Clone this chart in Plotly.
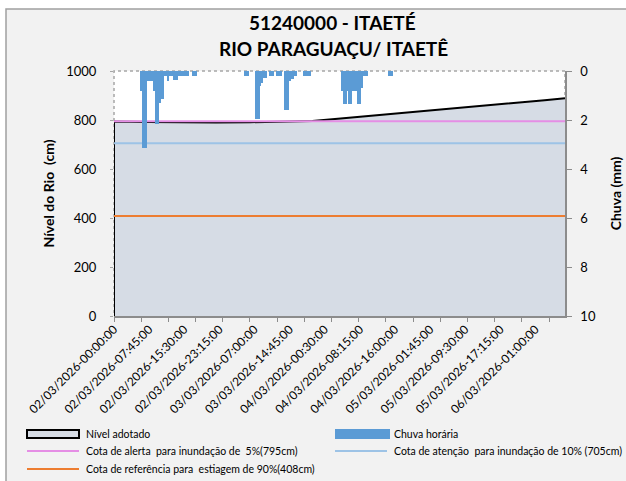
import plotly.graph_objects as go

# ---------------- data ----------------
tick_labels = [
    "02/03/2026-00:00:00", "02/03/2026-07:45:00", "02/03/2026-15:30:00",
    "02/03/2026-23:15:00", "03/03/2026-07:00:00", "03/03/2026-14:45:00",
    "04/03/2026-00:30:00", "04/03/2026-08:15:00", "04/03/2026-16:00:00",
    "05/03/2026-01:45:00", "05/03/2026-09:30:00", "05/03/2026-17:15:00",
    "06/03/2026-01:00:00",
]
label_step = 31      # categories between labels (15-min readings)
tick_step = 24       # categories between tick marks
n_points = 399       # number of 15-min readings

level_idx = [0, 30, 60, 90, 120, 150, 175, 200, 230, 260, 290, 320, 350, 380, 398]
level_cm = [794, 792, 790, 790, 791, 793, 796, 806, 818, 831, 844, 857, 869, 881, 889]

rain_idx = [24, 25, 26, 27, 28, 29, 30, 31, 32, 33, 34, 35, 36, 37, 38, 39, 40, 41,
            42, 43, 44, 45, 46, 47, 48, 49, 50, 51, 52, 53, 54, 55, 56,
            57, 58, 59, 60, 61, 62, 63, 64, 65, 70, 71, 72,
            116, 117, 118, 125, 126, 127, 128, 129, 130, 131, 132, 133, 134,
            138, 139, 140, 144, 145, 146, 147, 151, 152, 153, 154, 155,
            156, 157, 158, 159, 160, 161, 168, 169, 170, 171, 172, 173,
            201, 202, 203, 204, 205, 206, 207, 208, 209, 210, 211, 212, 213, 214,
            215, 216, 217, 218, 219, 220, 221, 222, 223, 243, 244, 245]
rain_mm = [0.8, 0.8, 3.15, 3.15, 3.15, 0.2, 0.4, 0.4, 0.4, 0.4, 0.4, 0.8, 0.8, 2.15, 2.15, 2.15, 1.3, 1.3,
           1.15, 1.15, 0.2, 0.2, 0.2, 0.2, 0.4, 0.2, 0.2, 0.2, 0.2, 0.35, 0.35, 0.35, 0.35,
           0.2, 0.2, 0.2, 0.2, 0.2, 0.2, 0.2, 0.2, 0.2, 0.2, 0.2, 0.2,
           0.2, 0.2, 0.2, 1.95, 1.95, 1.95, 1.95, 0.6, 0.48, 0.48, 0.3, 0.3, 0.3,
           0.2, 0.2, 0.2, 0.2, 0.2, 0.2, 0.2, 1.6, 1.6, 1.6, 1.6, 0.4,
           0.34, 0.34, 0.34, 0.2, 0.2, 0.2, 0.2, 0.2, 0.2, 0.2, 0.2, 0.2,
           0.8, 0.8, 1.36, 1.36, 1.36, 0.8, 1.36, 1.36, 1.36, 0.8, 0.8, 0.8, 0.8, 0.8,
           1.36, 1.36, 1.36, 0.7, 0.7, 0.2, 0.2, 0.2, 0.2, 0.2, 0.2, 0.2]

level_name = "Nível adotado"
rain_name = "Chuva horária"
ref_names = ["Cota de alerta  para inundação de  5%(795cm)",
             "Cota de atenção  para inundação de 10% (705cm)",
             "Cota de referência para  estiagem de 90%(408cm)"]
ref_values = [795, 705, 408]

# ---------------- styles / geometry ----------------
ref_colors = ["#e58ee5", "#9dc3e6", "#ed7d31"]
LEVEL_FILL = "#d6dce5"
RAIN_COLOR = "#5b9bd5"

W, H = 626, 481
L, R, T, B = 114, 61, 71, 165
pw, ph = W - L - R, H - T - B


def px_x(px):
    return (px - L) / pw


def px_y(py):
    return (H - B - py) / ph


FONT = "Lato"
last = n_points - 1

fig = go.Figure()

fig.add_trace(go.Scatter(
    x=[level_idx[0]] + level_idx, y=[0] + level_cm, mode="lines",
    fill="tozeroy", fillcolor=LEVEL_FILL,
    line=dict(color="black", width=2), name=level_name, showlegend=False))

for nm, v, c in zip(ref_names, ref_values, ref_colors):
    fig.add_trace(go.Scatter(
        x=[0, last], y=[v, v], mode="lines",
        line=dict(color=c, width=2), name=nm, showlegend=False))

fig.add_trace(go.Bar(
    x=rain_idx, y=rain_mm, yaxis="y2", width=1,
    marker=dict(color=RAIN_COLOR, line=dict(width=0)),
    name=rain_name, showlegend=False))

label_vals = [i * label_step for i in range(len(tick_labels))]
tick_vals = list(range(0, last + 1, tick_step))

# ---------------- manual legend (Excel-style, two columns) ----------------
shapes = [
    dict(type="rect", xref="paper", yref="paper", layer="below",
         x0=px_x(6), x1=px_x(W + 20), y0=px_y(H + 20), y1=px_y(9),
         fillcolor="#f2f2f2", line=dict(color="#a0a0a0", width=1.5)),
    dict(type="rect", xref="paper", yref="paper", layer="below",
         x0=0, x1=1, y0=0, y1=1, fillcolor="white",
         line=dict(color="#a6a6a6", width=1.5, dash="dot")),
]
annotations = [
    dict(text="<b>51240000 - ITAETÉ</b>", xref="paper", yref="paper",
         x=px_x(332), y=px_y(22), xanchor="center", yanchor="middle",
         showarrow=False, font=dict(size=19, family=FONT)),
    dict(text="<b>RIO PARAGUAÇU/ ITAETÊ</b>", xref="paper", yref="paper",
         x=px_x(333), y=px_y(48), xanchor="center", yanchor="middle",
         showarrow=False, font=dict(size=19, family=FONT)),
]

legend_items = [
    # (label, kind, color, column x of symbol, row y)
    (level_name, "area", LEVEL_FILL, 27, 434),
    (rain_name, "bar", RAIN_COLOR, 335, 434),
    (ref_names[0], "line", ref_colors[0], 27, 451),
    (ref_names[1], "line", ref_colors[1], 335, 451),
    (ref_names[2], "line", ref_colors[2], 27, 469),
]
for label, kind, color, sx, sy in legend_items:
    if kind == "area":
        shapes.append(dict(type="rect", xref="paper", yref="paper",
                           x0=px_x(sx), x1=px_x(sx + 52), y0=px_y(sy + 4), y1=px_y(sy - 4),
                           fillcolor=color, line=dict(color="black", width=2)))
    elif kind == "bar":
        shapes.append(dict(type="rect", xref="paper", yref="paper",
                           x0=px_x(sx), x1=px_x(sx + 55), y0=px_y(sy + 5), y1=px_y(sy - 5),
                           fillcolor=color, line=dict(width=0)))
    else:
        shapes.append(dict(type="line", xref="paper", yref="paper",
                           x0=px_x(sx), x1=px_x(sx + 52), y0=px_y(sy), y1=px_y(sy),
                           line=dict(color=color, width=2)))
    annotations.append(dict(text=label, xref="paper", yref="paper",
                            x=px_x(sx + 57), y=px_y(sy), xanchor="left", yanchor="middle",
                            showarrow=False, font=dict(size=10.5, family=FONT)))

fig.update_layout(
    width=W, height=H,
    margin=dict(l=L, r=R, t=T, b=B, autoexpand=False),
    paper_bgcolor="white", plot_bgcolor="white",
    font=dict(family=FONT, color="#000000"),
    bargap=0, showlegend=False,
    xaxis=dict(
        range=[0, last], tickmode="array", tickvals=label_vals, ticktext=tick_labels,
        tickangle=-45, tickfont=dict(size=12, family=FONT),
        ticks="", showgrid=False, zeroline=False,
        showline=True, linecolor="#8c8c8c", linewidth=1.5,
        minor=dict(tickmode="array", tickvals=tick_vals, ticks="outside",
                   ticklen=4, tickcolor="#8c8c8c", showgrid=False),
        automargin=False,
    ),
    yaxis=dict(
        range=[0, 1000], dtick=200, showgrid=False, zeroline=False,
        ticks="outside", ticklen=3, tickcolor="#a6a6a6", ticklabelstandoff=11,
        showline=False, tickfont=dict(size=13, family=FONT),
        title=dict(text="Nível do Rio  (cm)", font=dict(size=14, family=FONT, weight="bold"),
                   standoff=8),
        automargin=False,
    ),
    yaxis2=dict(
        range=[10, 0], dtick=2, overlaying="y", side="right", showgrid=False,
        zeroline=False, ticks="outside", ticklen=5, tickcolor="#8c8c8c",
        ticklabelstandoff=6,
        showline=True, linecolor="#8c8c8c", linewidth=1.5,
        tickfont=dict(size=13, family=FONT),
        title=dict(text="Chuva (mm)", font=dict(size=14, family=FONT, weight="bold"),
                   standoff=16),
        automargin=False,
    ),
    shapes=shapes,
    annotations=annotations,
)

fig.write_html("out.html", config={"displayModeBar": False},
               post_script="document.body.style.margin='0px';")
